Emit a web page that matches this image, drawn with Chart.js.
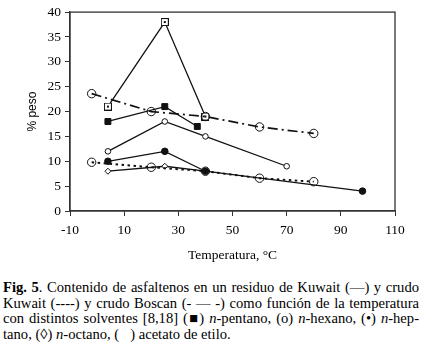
<!DOCTYPE html>
<html lang="es">
<head>
<meta charset="UTF-8">
<title>Fig. 5 asfaltenos</title>
<script src="https://cdn.jsdelivr.net/npm/chart.js"></script>
<style>
    body { margin: 0; background: #fff; }
    #wrap { position: relative; width: 421px; height: 266px; }
    .cap {
        position: absolute; left: 3px; width: 416px;
        font-family: "Liberation Serif", "Times New Roman", Times, serif;
        font-size: 14.6px; line-height: 15.6px; color: #000;
    }
    .cap div { white-space: nowrap; text-align: justify; text-align-last: justify; }
    .cap div.last { text-align-last: left; }
</style>
</head>
<body>
<div id="wrap"><canvas id="chart" width="421" height="266"></canvas></div>
<div class="cap" style="top:280px">
    <div><b>Fig. 5</b>. Contenido de asfaltenos en un residuo de Kuwait (—) y crudo</div>
    <div>Kuwait (----) y crudo Boscan (- — -) como función de la temperatura</div>
    <div>con distintos solventes [8,18] (■) <i>n</i>-pentano, (o) <i>n</i>-hexano, (•) <i>n</i>-hep-</div>
    <div class="last">tano, (◊) <i>n</i>-octano, (&nbsp;&nbsp;&nbsp;) acetato de etilo.</div>
</div>
<script>
// temperatures (°C) and % peso for each curve
const pentanoT = [4, 25, 37];
const pentano = [18, 21, 17];
const acetatoT = [4, 25, 40];
const acetato = [21, 38, 19];
const hexanoT = [4, 25, 40, 70];
const hexano = [12, 18, 15, 9];
const heptanoT = [4, 25, 40, 98];
const heptano = [10, 12, 8, 4];
const octanoT = [4, 25, 40];
const octano = [8, 9, 8];
const boscanT = [-2, 20, 40, 60, 80];
const boscan = [23.6, 20, 19, 16.9, 15.6];
const kuwaitT = [-2, 20, 40, 60, 80];
const kuwait = [9.8, 8.8, 8, 6.6, 5.9];

const xTicks = [-10, 10, 30, 50, 70, 90, 110];

const serif = '"Liberation Serif", "Times New Roman", Times, serif';

function pts(xs, ys) {
    return xs.map((x, i) => ({x: x, y: ys[i]}));
}

// open square with a dot in the middle
function squareDot() {
    const c = document.createElement('canvas');
    c.width = 8; c.height = 8;
    const g = c.getContext('2d');
    g.fillStyle = '#fff';
    g.fillRect(0.5, 0.5, 7, 7);
    g.strokeStyle = '#111';
    g.lineWidth = 1;
    g.strokeRect(0.5, 0.5, 7, 7);
    g.fillStyle = '#111';
    g.fillRect(3, 3, 2, 2);
    return c;
}

const ink = '#111';

function line(xs, ys, extra) {
    return Object.assign({
        data: pts(xs, ys),
        showLine: true,
        borderColor: ink,
        borderWidth: 1.3,
        pointBorderColor: ink,
        pointBorderWidth: 1,
        fill: false
    }, extra);
}

const frame = {
    id: 'frame',
    afterDraw(chart) {
        const a = chart.chartArea, ctx = chart.ctx;
        ctx.save();
        ctx.strokeStyle = '#333';
        ctx.lineWidth = 1.3;
        ctx.strokeRect(a.left, a.top, a.right - a.left, a.bottom - a.top);
        ctx.restore();
    }
};

new Chart(document.getElementById('chart'), {
    type: 'scatter',
    data: {
        datasets: [
            line(boscanT, boscan, {
                borderWidth: 1.7, borderDash: [10, 4, 2, 4],
                pointStyle: 'circle', pointRadius: 4.2, pointBackgroundColor: 'rgba(0,0,0,0)'
            }),
            line(kuwaitT, kuwait, {
                borderWidth: 1.9, borderDash: [2.5, 3.5],
                pointStyle: 'circle', pointRadius: 4.2, pointBackgroundColor: 'rgba(0,0,0,0)'
            }),
            line(acetatoT, acetato, {
                pointStyle: squareDot()
            }),
            line(pentanoT, pentano, {
                pointStyle: 'rect', pointRadius: 4.2, pointBackgroundColor: ink
            }),
            line(hexanoT, hexano, {
                pointStyle: 'circle', pointRadius: 2.8, pointBackgroundColor: '#fff'
            }),
            line(heptanoT, heptano, {
                pointStyle: 'circle', pointRadius: 3.3, pointBackgroundColor: ink
            }),
            line(octanoT, octano, {
                pointStyle: 'rectRot', pointRadius: 3, pointBackgroundColor: '#fff'
            })
        ]
    },
    options: {
        responsive: false,
        animation: false,
        layout: { padding: { top: 4, right: 26, left: 0, bottom: 0 } },
        plugins: { legend: { display: false }, tooltip: { enabled: false } },
        scales: {
            x: {
                type: 'linear', min: -10, max: 110,
                afterBuildTicks: s => { s.ticks = xTicks.map(v => ({value: v})); },
                afterFit: s => { s.height = 55; },
                border: { color: '#333', width: 1.3 },
                grid: { drawOnChartArea: false, tickLength: 5, color: '#333' },
                ticks: {
                    padding: 6, color: '#000',
                    font: { family: serif, size: 13.5 }
                },
                title: {
                    display: true, text: 'Temperatura, °C', color: '#000',
                    padding: { top: 0, bottom: 2 },
                    font: { family: serif, size: 13.5 }
                }
            },
            y: {
                min: 0, max: 40,
                afterFit: s => { s.width = 70; },
                border: { color: '#333', width: 1.3 },
                grid: { drawOnChartArea: false, tickLength: 5, color: '#333' },
                ticks: {
                    stepSize: 5, padding: 4, color: '#000',
                    font: { family: serif, size: 13.5 }
                },
                title: {
                    display: true, text: '% peso', color: '#000',
                    padding: { top: 25, bottom: 0 },
                    font: { family: '"Liberation Sans", Arial, sans-serif', size: 12 }
                }
            }
        }
    },
    plugins: [frame]
});
</script>
</body>
</html>
